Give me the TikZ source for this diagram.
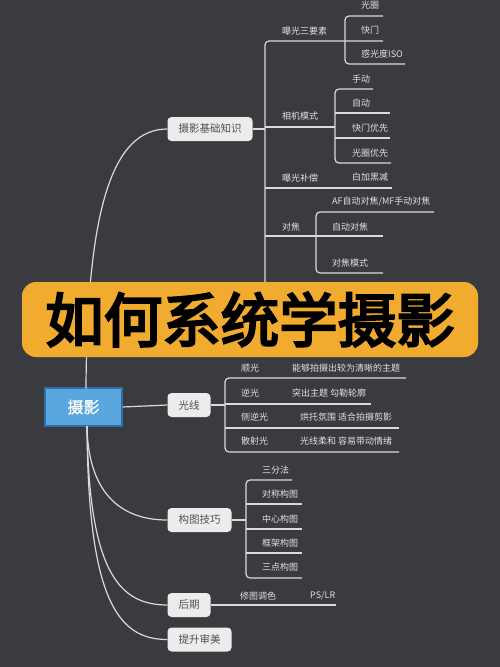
\documentclass[tikz,border=0pt]{standalone}
\usepackage{fontspec}
\newfontfamily\cjk{Noto Sans CJK SC}
\newfontfamily\cjkbold[FakeBold=4]{Noto Sans CJK SC}
\newfontfamily\cjkroot[FakeBold=1]{Noto Sans CJK SC}
\definecolor{bg}{HTML}{3A3B3F}
\definecolor{ln}{HTML}{DADADA}
\definecolor{lab}{HTML}{E2E2E2}
\definecolor{boxfill}{HTML}{ECECEC}
\definecolor{boxtext}{HTML}{505050}
\definecolor{rootfill}{HTML}{5AA6DE}
\definecolor{rootedge}{HTML}{2F6EA6}
\definecolor{banner}{HTML}{F1AB2F}
\tikzset{
  conn/.style={draw=ln, line width=1.2pt, rounded corners=4pt},
  lbl/.style={anchor=west, inner sep=0pt, text=lab, font=\cjk\fontsize{9}{10}\selectfont},
  topic/.style={draw=none, fill=boxfill, rounded corners=4pt, text=boxtext,
    minimum height=24pt, inner xsep=11pt, inner ysep=0pt, font=\cjk\fontsize{10.5}{12}\selectfont},
}
\begin{document}
\begin{tikzpicture}[x=1pt,y=-1pt]
\fill[bg] (0,0) rectangle (500,667);
\useasboundingbox (0,0) rectangle (500,667);

% ---- nodes (topics) ----
\node[draw=rootedge, line width=1.5pt, fill=rootfill, minimum width=77pt, minimum height=38pt,
      inner sep=0pt, text=white, font=\cjkroot\fontsize{16}{18}\selectfont] (root) at (83.5,407) {摄影};
\node[topic] (t1) at (210,129) {摄影基础知识};
\node[topic] (t2) at (189,405) {光线};
\node[topic] (t3) at (199.5,520) {构图技巧};
\node[topic] (t4) at (189,605) {后期};
\node[topic] (t5) at (199.5,639.5) {提升审美};

% ---- coordinates ----
\coordinate (rtop) at (86,388.5);
\coordinate (rbot) at (87,426);

% ---- root curves ----
\draw[conn] (rtop) .. controls (87,210) and (112,129) .. (t1.west);
\draw[conn] (root.east) -- (t2.west);
\draw[conn] (rbot) .. controls (88,490) and (118,520) .. (t3.west);
\draw[conn] (rbot) .. controls (89,570) and (118,605) .. (t4.west);
\draw[conn] (rbot) .. controls (88,600) and (118,639.5) .. (t5.west);

% ---- tree 1: 摄影基础知识 ----
\coordinate (j1) at (265,129);
\draw[conn] (t1.east) -- (j1);
\draw[conn] (265,290) -- (265,41) -- (383,41);
\draw[conn] (265,127) -- (335,127);
\draw[conn] (265,188) -- (392,188);
\draw[conn] (265,236) -- (383,236);
% 曝光三要素 children
\draw[conn] (383,16) -- (345,16) -- (345,64) -- (405,64);
% 相机模式 children
\draw[conn] (373,89) -- (335,89) -- (335,163) -- (391,163);
\draw[conn] (335,113) -- (390,113);
\draw[conn] (335,138) -- (390,138);
% 对焦 children
\draw[conn] (434,212) -- (316,212) -- (316,273) -- (383,273);

\node[lbl] (a1) at (282,31) {曝光三要素};
\node[lbl] (a11) at (361,5) {光圈};
\node[lbl] (a12) at (361,30) {快门};
\node[lbl] (a13) at (361,54) {感光度ISO};
\node[lbl] (a2) at (282,116) {相机模式};
\node[lbl] (a21) at (352,79) {手动};
\node[lbl] (a22) at (352,103) {自动};
\node[lbl] (a23) at (352,128) {快门优先};
\node[lbl] (a24) at (352,153) {光圈优先};
\node[lbl] (a3) at (282,178) {曝光补偿};
\node[lbl] (a31) at (352,177) {白加黑减};
\node[lbl] (a4) at (282,227) {对焦};
\node[lbl] (a41) at (332,201) {AF自动对焦/MF手动对焦};
\node[lbl] (a42) at (332,227) {自动对焦};
\node[lbl] (a43) at (332,263) {对焦模式};

% ---- tree 2: 光线 ----
\draw[conn] (t2.east) -- (225,405);
\draw[conn] (406,378) -- (225,378) -- (225,452) -- (399,452);
\draw[conn] (225,404) -- (371,404);
\draw[conn] (225,428) -- (399,428);
\node[lbl] (b1) at (241,368) {顺光};
\node[lbl] (b1d) at (292,368) {能够拍摄出较为清晰的主题};
\node[lbl] (b2) at (241,393) {逆光};
\node[lbl] (b2d) at (292,393) {突出主题 勾勒轮廓};
\node[lbl] (b3) at (241,417) {侧逆光};
\node[lbl] (b3d) at (300,417) {烘托氛围 适合拍摄剪影};
\node[lbl] (b4) at (241,441) {散射光};
\node[lbl] (b4d) at (300,441) {光线柔和 容易带动情绪};

% ---- tree 3: 构图技巧 ----
\draw[conn] (t3.east) -- (246,520);
\draw[conn] (292,480) -- (246,480) -- (246,578) -- (302,578);
\draw[conn] (246,504) -- (302,504);
\draw[conn] (246,529) -- (302,529);
\draw[conn] (246,553) -- (302,553);
\node[lbl] (c1) at (262,470) {三分法};
\node[lbl] (c2) at (262,494) {对称构图};
\node[lbl] (c3) at (262,519) {中心构图};
\node[lbl] (c4) at (262,543) {框架构图};
\node[lbl] (c5) at (262,567) {三点构图};

% ---- tree 4: 后期 ----
\coordinate (d0) at (336,605);
\draw[conn] (t4.east) -- (d0);
\node[lbl] (d1) at (240,596) {修图调色};
\node[lbl] (d2) at (310,596) {PS/LR};

% ---- title banner ----
\node[fill=banner, rounded corners=14pt, minimum width=456pt, minimum height=75pt, inner sep=0pt,
      font=\cjkbold\fontsize{58.5}{62}\selectfont, text=black] (title) at (250,319.5) {如何系统学摄影};
\end{tikzpicture}
\end{document}
